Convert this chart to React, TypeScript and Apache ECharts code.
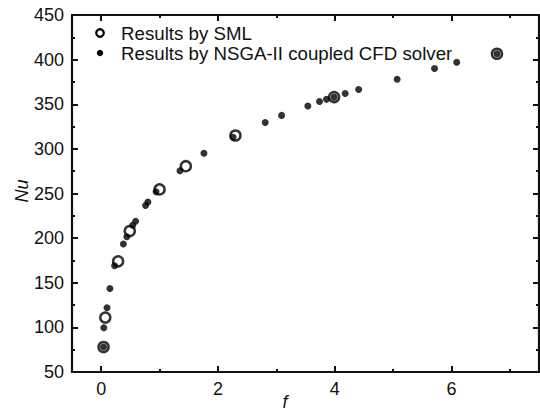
import React, { useEffect, useRef } from "react";
import * as echarts from "echarts";

const smlF = [0.04, 0.07, 0.29, 0.49, 1.0, 1.45, 2.3, 3.99, 6.78];
const smlNu = [78, 111, 174, 208, 254.6, 280.6, 315, 358, 406.6];

const nsgaF = [0.04, 0.045, 0.1, 0.15, 0.23, 0.38, 0.44, 0.54, 0.59, 0.76, 0.8, 0.94, 1.35, 1.76, 2.26, 2.81, 3.09, 3.54, 3.74, 3.86, 3.99, 4.18, 4.41, 5.07, 5.71, 6.09, 6.78];
const nsgaNu = [78, 99.5, 122, 143.5, 169, 193.5, 201.5, 214.5, 219, 236.5, 240.5, 252, 275.5, 295, 313, 329.5, 337.5, 348, 353, 355.5, 358, 362, 366.5, 378, 390, 397, 406.5];

const xMajor = [0, 2, 4, 6];
const xMinor = [1, 3, 5, 7];
const legendLabels = ["Results by SML", "Results by NSGA-II coupled CFD solver"];

const FONT = '"Liberation Sans", Arial, sans-serif';
const INK = "#111";

export default function App() {
  const ref = useRef<HTMLDivElement>(null);
  useEffect(() => {
    if (!ref.current) return;
    const chart = echarts.init(ref.current, undefined, { renderer: "svg" });
    const xBase = {
      type: "value" as const,
      min: -0.5,
      max: 7.5,
      splitLine: { show: false },
    };
    const yBase = {
      type: "value" as const,
      min: 50,
      max: 450,
      interval: 50,
      splitLine: { show: false },
    };
    chart.setOption({
      animation: false,
      grid: { left: 72, right: 1, top: 15, bottom: 48 },
      xAxis: [
        {
          ...xBase,
          position: "bottom",
          axisLine: { show: true, onZero: false, lineStyle: { color: INK, width: 2.2 } },
          axisTick: { show: true, inside: true, length: 6, lineStyle: { color: INK, width: 2 }, customValues: xMajor },
          axisLabel: { show: true, customValues: xMajor, fontSize: 18, color: INK, fontFamily: FONT, margin: 8 },
        },
        {
          ...xBase,
          position: "bottom",
          axisLine: { show: false, onZero: false },
          axisTick: { show: true, inside: true, length: 3, lineStyle: { color: INK, width: 2 }, customValues: xMinor },
          axisLabel: { show: false },
        },
        {
          ...xBase,
          position: "top",
          axisLine: { show: true, onZero: false, lineStyle: { color: INK, width: 2.2 } },
          axisTick: { show: true, inside: true, length: 6, lineStyle: { color: INK, width: 2 }, customValues: xMajor },
          axisLabel: { show: false },
        },
        {
          ...xBase,
          position: "top",
          axisLine: { show: false, onZero: false },
          axisTick: { show: true, inside: true, length: 3, lineStyle: { color: INK, width: 2 }, customValues: xMinor },
          axisLabel: { show: false },
        },
      ],
      yAxis: [
        {
          ...yBase,
          position: "left",
          axisLine: { show: true, onZero: false, lineStyle: { color: INK, width: 2.2 } },
          axisTick: { show: true, inside: true, length: 6, lineStyle: { color: INK, width: 2 } },
          minorTick: { show: true, splitNumber: 2, length: 3, lineStyle: { color: INK, width: 2 } },
          minorSplitLine: { show: false },
          axisLabel: { show: true, fontSize: 18, color: INK, fontFamily: FONT, margin: 8 },
        },
        {
          ...yBase,
          position: "right",
          axisLine: { show: true, onZero: false, lineStyle: { color: INK, width: 2.2 } },
          axisTick: { show: true, inside: true, length: 6, lineStyle: { color: INK, width: 2 } },
          minorTick: { show: true, splitNumber: 2, length: 3, lineStyle: { color: INK, width: 2 } },
          minorSplitLine: { show: false },
          axisLabel: { show: false },
        },
      ],
      series: [
        {
          name: legendLabels[1],
          type: "scatter",
          xAxisIndex: 0,
          yAxisIndex: 0,
          symbol: "circle",
          symbolSize: 7,
          itemStyle: { color: "#000" },
          data: nsgaF.map((f, i) => [f, nsgaNu[i]]),
          z: 2,
        },
        {
          name: legendLabels[0],
          type: "scatter",
          xAxisIndex: 0,
          yAxisIndex: 0,
          symbol: "circle",
          symbolSize: 10,
          itemStyle: { color: "rgba(0,0,0,0)", borderColor: "#000", borderWidth: 2.5 },
          data: smlF.map((f, i) => [f, smlNu[i]]),
          z: 3,
        },
      ],
      graphic: [
        {
          type: "circle",
          shape: { cx: 100, cy: 33, r: 3.8 },
          style: { fill: "none", stroke: "#000", lineWidth: 2.2 },
        },
        {
          type: "circle",
          shape: { cx: 100, cy: 53, r: 3.2 },
          style: { fill: "#000" },
        },
        {
          type: "text",
          x: 121,
          y: 33,
          style: { text: legendLabels[0], fontSize: 18.7, fontFamily: FONT, fill: INK, align: "left", verticalAlign: "middle" },
        },
        {
          type: "text",
          x: 121,
          y: 53,
          style: { text: legendLabels[1], fontSize: 18.7, fontFamily: FONT, fill: INK, align: "left", verticalAlign: "middle" },
        },
        {
          type: "text",
          x: 285,
          y: 402,
          style: { text: "f", fontSize: 18, fontStyle: "italic", fontFamily: FONT, fill: INK, align: "center", verticalAlign: "middle" },
        },
        {
          type: "text",
          x: 22,
          y: 191,
          rotation: Math.PI / 2,
          style: { text: "Nu", fontSize: 18, fontStyle: "italic", fontFamily: FONT, fill: INK, align: "center", verticalAlign: "middle" },
        },
      ],
    });
    return () => chart.dispose();
  }, []);
  return <div ref={ref} style={{ width: 540, height: 420, position: "absolute", left: 0, top: 0 }} />;
}
